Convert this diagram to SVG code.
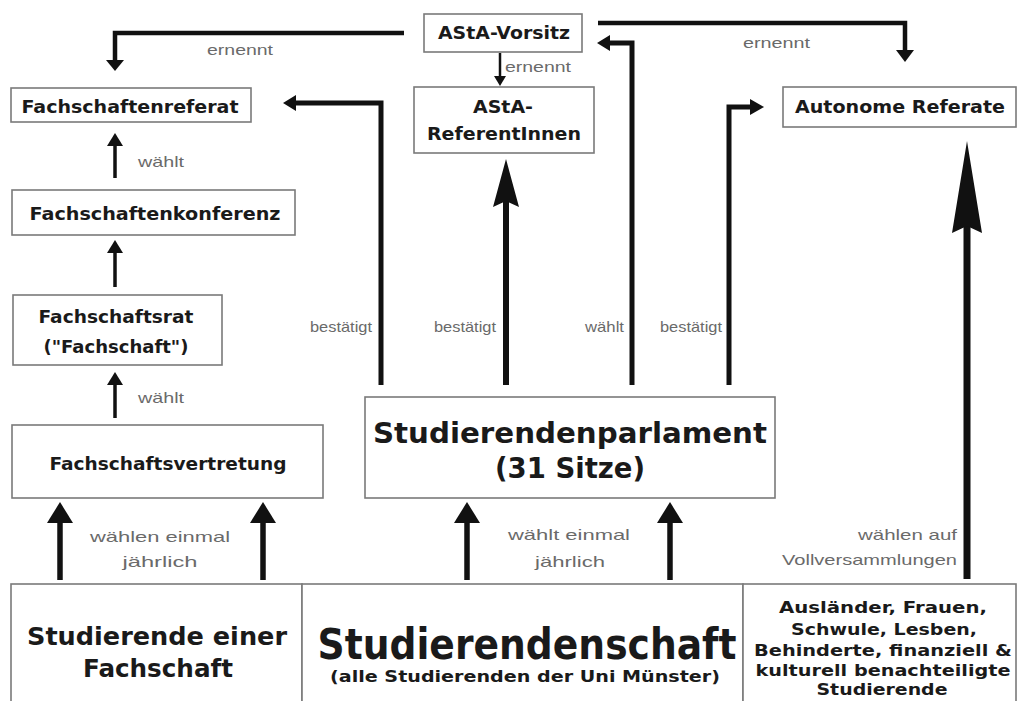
<svg xmlns="http://www.w3.org/2000/svg" width="1018" height="701" viewBox="0 0 1018 701">
<style>
.box{fill:#fff;stroke:#7a7a7a;stroke-width:1.6}
.t{font-family:"DejaVu Sans","Liberation Sans",sans-serif;font-weight:bold;fill:#1a1a1a;text-anchor:middle}
.g{font-family:"Liberation Sans","DejaVu Sans",sans-serif;fill:#6a6a6a;font-size:15px}
.ln{fill:none;stroke:#111;stroke-linejoin:miter;stroke-linecap:butt}
.hd{fill:#111}
</style>
<rect width="1018" height="701" fill="#fff"/>
<g id="connectors">
  <polyline class="ln" stroke-width="4.5" points="404,33 115,33 115,62"/>
  <polygon class="hd" points="106,60 124,60 115,71"/>
  <text class="g" x="207" y="55" textLength="66" lengthAdjust="spacingAndGlyphs">ernennt</text>
  <line class="ln" stroke-width="2.5" x1="500" y1="53" x2="500" y2="78"/>
  <polygon class="hd" points="494,76 506,76 500,86"/>
  <text class="g" x="505" y="72" textLength="66" lengthAdjust="spacingAndGlyphs">ernennt</text>
  <polyline class="ln" stroke-width="4.5" points="598,23 905,23 905,52"/>
  <polygon class="hd" points="896,50 914,50 905,62"/>
  <text class="g" x="743" y="48" textLength="67" lengthAdjust="spacingAndGlyphs">ernennt</text>
  <polyline class="ln" stroke-width="5" points="381,385 381,103 294,103"/>
  <polygon class="hd" points="296,95 296,111 283,103"/>
  <text class="g" x="310" y="332" textLength="62" lengthAdjust="spacingAndGlyphs">bestätigt</text>
  <line class="ln" stroke-width="6" x1="506" y1="385" x2="506" y2="200"/>
  <polygon class="hd" points="506,159 519,207 506,201 493,207"/>
  <text class="g" x="434" y="332" textLength="62" lengthAdjust="spacingAndGlyphs">bestätigt</text>
  <polyline class="ln" stroke-width="5" points="632,385 632,43 608,43"/>
  <polygon class="hd" points="610,35 610,51 597,43"/>
  <text class="g" x="585" y="332" textLength="39" lengthAdjust="spacingAndGlyphs">wählt</text>
  <polyline class="ln" stroke-width="5" points="729,385 729,107 752,107"/>
  <polygon class="hd" points="750,99 750,115 764,107"/>
  <text class="g" x="660" y="332" textLength="62" lengthAdjust="spacingAndGlyphs">bestätigt</text>
  <line class="ln" stroke-width="7" x1="967" y1="579" x2="967" y2="225"/>
  <polygon class="hd" points="967,141 982,233 967,226 952,233"/>
  <text class="g" x="957" y="540" text-anchor="end" font-size="17" textLength="99" lengthAdjust="spacingAndGlyphs">wählen auf</text>
  <text class="g" x="957" y="565" text-anchor="end" font-size="17" textLength="175" lengthAdjust="spacingAndGlyphs">Vollversammlungen</text>
  <line class="ln" stroke-width="3.5" x1="115" y1="178" x2="115" y2="143"/>
  <polygon class="hd" points="107,146 123,146 115,133"/>
  <text class="g" x="138" y="167" font-size="16" textLength="46" lengthAdjust="spacingAndGlyphs">wählt</text>
  <line class="ln" stroke-width="3.5" x1="115" y1="287" x2="115" y2="250"/>
  <polygon class="hd" points="107,253 123,253 115,240"/>
  <line class="ln" stroke-width="3.5" x1="115" y1="418" x2="115" y2="382"/>
  <polygon class="hd" points="107,385 123,385 115,372"/>
  <text class="g" x="138" y="403" font-size="16" textLength="46" lengthAdjust="spacingAndGlyphs">wählt</text>
  <line class="ln" stroke-width="5.5" x1="60" y1="580" x2="60" y2="515"/>
  <polygon class="hd" points="47,523 73,523 60,502"/>
  <line class="ln" stroke-width="5.5" x1="263" y1="580" x2="263" y2="515"/>
  <polygon class="hd" points="250,523 276,523 263,502"/>
  <text class="g" x="160" y="542" text-anchor="middle" font-size="17" textLength="140" lengthAdjust="spacingAndGlyphs">wählen einmal</text>
  <text class="g" x="160" y="567" text-anchor="middle" font-size="17" textLength="75" lengthAdjust="spacingAndGlyphs">jährlich</text>
  <line class="ln" stroke-width="5.5" x1="467" y1="580" x2="467" y2="515"/>
  <polygon class="hd" points="454,523 480,523 467,502"/>
  <line class="ln" stroke-width="5.5" x1="670" y1="580" x2="670" y2="515"/>
  <polygon class="hd" points="657,523 683,523 670,502"/>
  <text class="g" x="569" y="540" text-anchor="middle" font-size="17" textLength="122" lengthAdjust="spacingAndGlyphs">wählt einmal</text>
  <text class="g" x="570" y="567" text-anchor="middle" font-size="17" textLength="70" lengthAdjust="spacingAndGlyphs">jährlich</text>
</g>
<g id="asta-vorsitz">
  <rect class="box" x="424" y="14" width="158" height="38"/>
  <text class="t" x="504" y="39" font-size="17" textLength="132" lengthAdjust="spacingAndGlyphs">AStA-Vorsitz</text>
</g>
<g id="asta-referentinnen">
  <rect class="box" x="414" y="87" width="180" height="66"/>
  <text class="t" x="503" y="113" font-size="17" textLength="60" lengthAdjust="spacingAndGlyphs">AStA-</text>
  <text class="t" x="504" y="140" font-size="17" textLength="154" lengthAdjust="spacingAndGlyphs">ReferentInnen</text>
</g>
<g id="autonome-referate">
  <rect class="box" x="783" y="87" width="233" height="40"/>
  <text class="t" x="900" y="113" font-size="17" textLength="210" lengthAdjust="spacingAndGlyphs">Autonome Referate</text>
</g>
<g id="fachschaftenreferat">
  <rect class="box" x="11" y="88" width="240" height="34"/>
  <text class="t" x="130" y="113" font-size="17" textLength="217" lengthAdjust="spacingAndGlyphs">Fachschaftenreferat</text>
</g>
<g id="fachschaftenkonferenz">
  <rect class="box" x="12" y="190" width="283" height="45"/>
  <text class="t" x="155" y="220" font-size="17" textLength="251" lengthAdjust="spacingAndGlyphs">Fachschaftenkonferenz</text>
</g>
<g id="fachschaftsrat">
  <rect class="box" x="13" y="295" width="209" height="70"/>
  <text class="t" x="116" y="323" font-size="17" textLength="155" lengthAdjust="spacingAndGlyphs">Fachschaftsrat</text>
  <text class="t" x="116" y="353" font-size="17" textLength="145" lengthAdjust="spacingAndGlyphs">("Fachschaft")</text>
</g>
<g id="fachschaftsvertretung">
  <rect class="box" x="12" y="425" width="311" height="73"/>
  <text class="t" x="168" y="470" font-size="17" textLength="237" lengthAdjust="spacingAndGlyphs">Fachschaftsvertretung</text>
</g>
<g id="studierendenparlament">
  <rect class="box" x="365" y="397" width="410" height="101"/>
  <text class="t" x="570" y="443" font-size="29" textLength="394" lengthAdjust="spacingAndGlyphs">Studierendenparlament</text>
  <text class="t" x="570" y="478" font-size="29" textLength="150" lengthAdjust="spacingAndGlyphs">(31 Sitze)</text>
</g>
<g id="studierende-einer-fachschaft">
  <rect class="box" x="11" y="584" width="291" height="125"/>
  <text class="t" x="157" y="645" font-size="24" textLength="260" lengthAdjust="spacingAndGlyphs">Studierende einer</text>
  <text class="t" x="158" y="677" font-size="24" textLength="150" lengthAdjust="spacingAndGlyphs">Fachschaft</text>
</g>
<g id="studierendenschaft">
  <rect class="box" x="302" y="584" width="441" height="125"/>
  <text class="t" transform="translate(527,659) scale(1,1.2)" x="0" y="0" font-size="35" textLength="419" lengthAdjust="spacingAndGlyphs">Studierendenschaft</text>
  <text class="t" x="525" y="682" font-size="16" textLength="390" lengthAdjust="spacingAndGlyphs">(alle Studierenden der Uni Münster)</text>
</g>
<g id="benachteiligte-studierende">
  <rect class="box" x="743" y="584" width="273" height="125"/>
  <text class="t" x="883" y="613" font-size="16.5" textLength="208" lengthAdjust="spacingAndGlyphs">Ausländer, Frauen,</text>
  <text class="t" x="884" y="635" font-size="16.5" textLength="186" lengthAdjust="spacingAndGlyphs">Schwule, Lesben,</text>
  <text class="t" x="883" y="656" font-size="16.5" textLength="258" lengthAdjust="spacingAndGlyphs">Behinderte, finanziell &amp;</text>
  <text class="t" x="883" y="676" font-size="16.5" textLength="255" lengthAdjust="spacingAndGlyphs">kulturell benachteiligte</text>
  <text class="t" x="882" y="695" font-size="16.5" textLength="131" lengthAdjust="spacingAndGlyphs">Studierende</text>
</g>
</svg>
